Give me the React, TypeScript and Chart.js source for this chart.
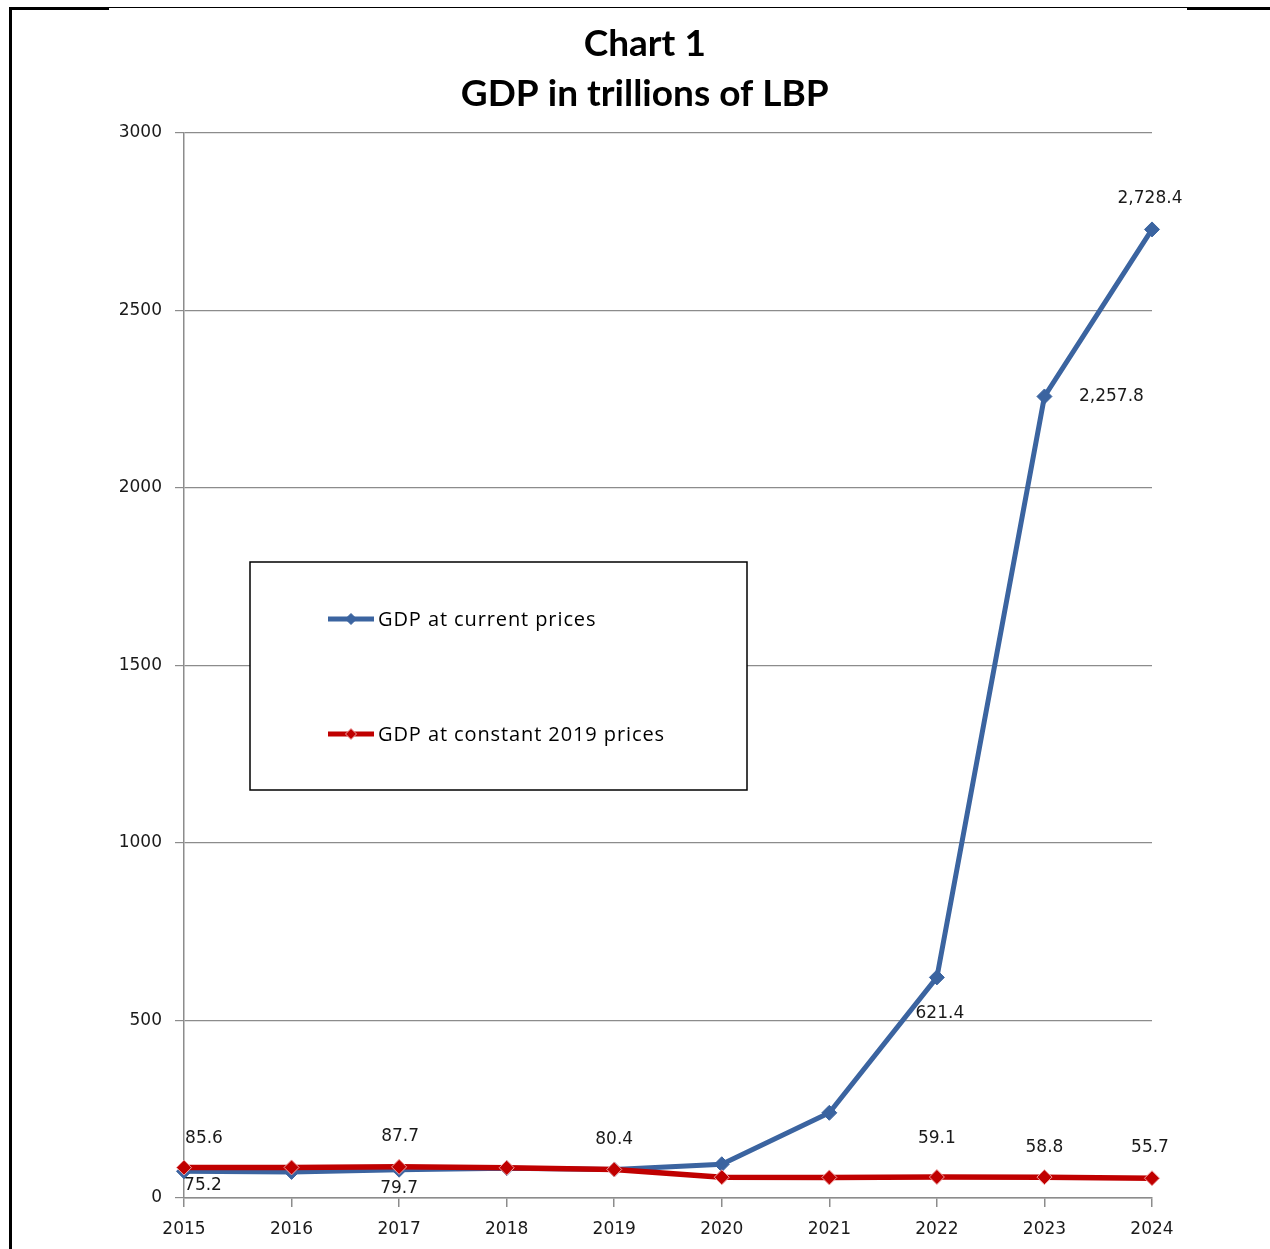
import React, { useEffect, useRef } from 'react';
import { Chart, registerables } from 'chart.js';

Chart.register(...registerables);

const years = ['2015', '2016', '2017', '2018', '2019', '2020', '2021', '2022', '2023', '2024'];
const seriesNames = ['GDP at current prices', 'GDP at constant 2019 prices'];
const currentPrices = [75.2, 73.5, 79.7, 84.1, 80.4, 95.0, 240.0, 621.4, 2257.8, 2728.4];
const constantPrices = [85.6, 86.2, 87.7, 85.2, 80.4, 58.5, 58.0, 59.1, 58.8, 55.7];
const currentLabelShown = [true, false, true, false, false, false, false, true, true, true];
const constantLabelShown = [true, false, true, false, true, false, false, true, true, true];
const yMin = 0;
const yMax = 3000;
const yStep = 500;
const titleLines = ['Chart 1', 'GDP in trillions of LBP'];

// label placement (offsets of label centre from the point, in px)
const currentLabelOffsets: [number, number][] = [
  [19, 14], [0, 0], [0, 19], [0, 0], [0, 0], [0, 0], [0, 0], [3, 36], [67, 0], [-2, -31],
];
const constantLabelOffsets: [number, number][] = [
  [20, -29], [0, 0], [1, -30], [0, 0], [0, -30], [0, 0], [0, 0], [0, -38], [0, -30], [-2, -31],
];

const BLUE = '#3B64A0';
const RED = '#C00000';

const fmt = (v: number) =>
  v.toLocaleString('en-US', { minimumFractionDigits: 1, maximumFractionDigits: 1 });

const titlePlugin = {
  id: 'customTitle',
  afterDraw(chart: any) {
    const ctx = chart.ctx;
    const area = chart.chartArea;
    const cx = area.left + (area.right - area.left) * 0.476;
    ctx.save();
    ctx.fillStyle = '#000';
    ctx.font = 'bold 37px Lato';
    ctx.textAlign = 'center';
    ctx.textBaseline = 'middle';
    titleLines.forEach((t, i) => {
      ctx.fillText(t, cx, area.top - 89 + i * 50);
    });
    ctx.restore();
  },
};

const dataLabelPlugin = {
  id: 'dataLabels',
  afterDatasetsDraw(chart: any) {
    const ctx = chart.ctx;
    ctx.save();
    ctx.font = '17px "DejaVu Sans"';
    ctx.fillStyle = '#1a1a1a';
    ctx.textAlign = 'center';
    ctx.textBaseline = 'middle';
    const cfg = [
      { shown: currentLabelShown, offs: currentLabelOffsets, values: currentPrices },
      { shown: constantLabelShown, offs: constantLabelOffsets, values: constantPrices },
    ];
    cfg.forEach((c, di) => {
      const meta = chart.getDatasetMeta(di);
      meta.data.forEach((pt: any, i: number) => {
        if (!c.shown[i]) return;
        const [dx, dy] = c.offs[i];
        ctx.fillText(fmt(c.values[i]), pt.x + dx, pt.y + dy);
      });
    });
    ctx.restore();
  },
};

const boxLegendPlugin = {
  id: 'boxLegend',
  afterDatasetsDraw(chart: any) {
    const ctx = chart.ctx;
    const area = chart.chartArea;
    const x0 = area.left + 66;
    const y0 = area.top + 429;
    const w = 497;
    const h = 228;
    ctx.save();
    ctx.fillStyle = '#fff';
    ctx.fillRect(x0, y0, w, h);
    ctx.strokeStyle = '#000';
    ctx.lineWidth = 1.5;
    ctx.strokeRect(x0, y0, w, h);
    const rows = [57, 172];
    chart.data.datasets.forEach((ds: any, i: number) => {
      const y = y0 + rows[i];
      const lx = x0 + 78;
      ctx.strokeStyle = ds.borderColor;
      ctx.lineWidth = 5;
      ctx.beginPath();
      ctx.moveTo(lx, y);
      ctx.lineTo(lx + 46, y);
      ctx.stroke();
      ctx.fillStyle = ds.pointBackgroundColor;
      ctx.strokeStyle = ds.pointBorderColor;
      ctx.lineWidth = 1;
      ctx.beginPath();
      const r = 5.5;
      const cx = lx + 23;
      ctx.moveTo(cx - r, y);
      ctx.lineTo(cx, y - r);
      ctx.lineTo(cx + r, y);
      ctx.lineTo(cx, y + r);
      ctx.closePath();
      ctx.fill();
      ctx.stroke();
      ctx.fillStyle = '#000';
      ctx.font = '500 20px "Open Sans"';
      (ctx as any).letterSpacing = '0.9px';
      ctx.textAlign = 'left';
      ctx.textBaseline = 'middle';
      ctx.fillText(ds.label, lx + 50, y + 1);
      (ctx as any).letterSpacing = '0px';
    });
    ctx.restore();
  },
};

export default function App() {
  const ref = useRef<HTMLCanvasElement | null>(null);
  useEffect(() => {
    if (!ref.current) return;
    const chart = new Chart(ref.current, {
      type: 'line',
      data: {
        labels: years,
        datasets: [
          {
            label: seriesNames[0],
            data: currentPrices,
            borderColor: BLUE,
            backgroundColor: BLUE,
            pointBackgroundColor: BLUE,
            pointBorderColor: BLUE,
            borderWidth: 5,
            pointStyle: 'rectRot',
            pointRadius: 7.5,
            pointBorderWidth: 1,
            tension: 0,
            order: 2,
          },
          {
            label: seriesNames[1],
            data: constantPrices,
            borderColor: RED,
            backgroundColor: RED,
            pointBackgroundColor: RED,
            pointBorderColor: '#EFA3A3',
            borderWidth: 5.5,
            pointStyle: 'rectRot',
            pointRadius: 7.5,
            pointBorderWidth: 1,
            tension: 0,
            order: 1,
          },
        ],
      },
      options: {
        responsive: false,
        animation: false,
        layout: { padding: { left: 0, right: 118, top: 133, bottom: 9.6 } },
        plugins: {
          legend: { display: false },
          tooltip: { enabled: false },
          title: { display: false },
        },
        scales: {
          x: {
            type: 'category',
            offset: false,
            grid: {
              display: true,
              drawOnChartArea: false,
              drawTicks: true,
              tickLength: 9,
              color: '#8c8c8c',
              lineWidth: 1.5,
            },
            border: { display: true, color: '#8c8c8c', width: 1.5 },
            ticks: {
              color: '#1a1a1a',
              font: { family: 'DejaVu Sans', size: 17 },
              padding: 12,
              maxRotation: 0,
              autoSkip: false,
            },
            afterFit(scale: any) {
              scale.height = 41.4;
            },
          },
          y: {
            min: yMin,
            max: yMax,
            grid: {
              color: '#8c8c8c',
              lineWidth: 1.2,
              tickLength: 9,
              drawTicks: true,
            },
            border: { display: true, color: '#8c8c8c', width: 1.5 },
            ticks: {
              stepSize: yStep,
              color: '#1a1a1a',
              font: { family: 'DejaVu Sans', size: 17 },
              padding: 13,
              callback: (v: any) => String(v),
            },
            afterFit(scale: any) {
              scale.width = 184;
            },
          },
        },
      },
      plugins: [dataLabelPlugin, boxLegendPlugin, titlePlugin],
    });
    return () => chart.destroy();
  }, []);

  return (
    <div style={{ position: 'absolute', left: 0, top: 0, width: 1270, height: 1249, background: '#fff' }}>
      <canvas ref={ref} width={1270} height={1249} style={{ position: 'absolute', left: 0, top: 0 }} />
      <div style={{ position: 'absolute', left: 9, top: 7, width: 3, height: 1242, background: '#000' }} />
      <div style={{ position: 'absolute', left: 9, top: 7, width: 100, height: 2.5, background: '#000' }} />
      <div style={{ position: 'absolute', left: 108, top: 7, width: 1080, height: 1.3, background: '#000' }} />
      <div style={{ position: 'absolute', left: 1187, top: 7, width: 83, height: 2.5, background: '#000' }} />
    </div>
  );
}
